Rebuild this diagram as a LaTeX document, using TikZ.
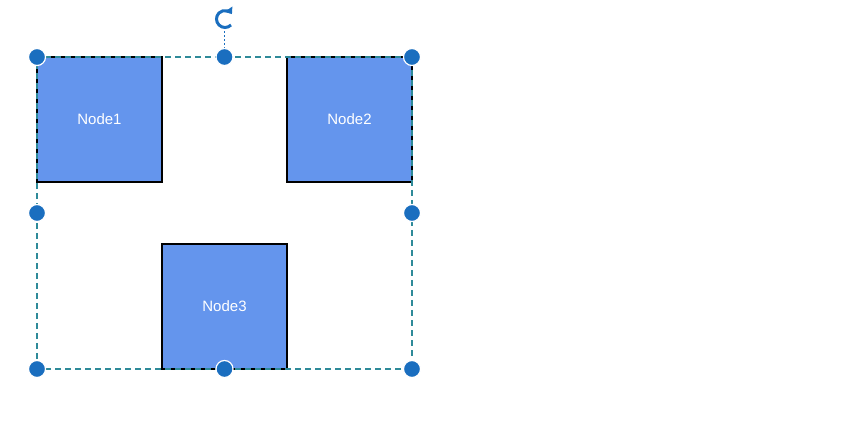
\documentclass[tikz,border=0pt]{standalone}
\usepackage{fontspec}
\setmainfont{Liberation Sans}
\usetikzlibrary{arrows.meta}
\definecolor{nodeblue}{HTML}{6495ED}
\definecolor{handleblue}{HTML}{1A6EBF}
\definecolor{selteal}{HTML}{2E8A99}
\tikzset{
  boxnode/.style={draw=black, line width=1.5pt, fill=nodeblue, minimum width=125pt, minimum height=125pt, inner sep=0pt, text=white, font=\fontsize{15}{17}\selectfont},
  handle/.style={circle, fill=handleblue, draw=white, line width=1.2pt, minimum size=17pt, inner sep=0pt},
  selline/.style={draw=selteal, line width=1.5pt, dash pattern=on 6pt off 4pt}
}
\begin{document}
\begin{tikzpicture}[x=1pt,y=1pt]
\useasboundingbox (0,0) rectangle (847,432);
\node[boxnode] (n1) at (99.5,312.5) {Node1};
\node[boxnode] (n2) at (349.5,312.5) {Node2};
\node[boxnode] (n3) at (224.5,125.5) {Node3};
\coordinate (sw) at (37,63);
\coordinate (ne) at (412,375);
\draw[selline] (sw) rectangle (ne);
\coordinate (rotbase) at (224.5,375);
\coordinate (rottop) at (224.5,403);
\draw[draw=handleblue, line width=1.5pt, dash pattern=on 1.5pt off 2.5pt] (rotbase) -- (rottop);
\draw[draw=handleblue, line width=3pt, -{Triangle[length=6pt,width=9pt]}] (231,407) arc[start angle=-45, end angle=-325, radius=8.5];
\node[handle] (h1) at (37,375) {};
\node[handle] (h2) at (224.5,375) {};
\node[handle] (h3) at (412,375) {};
\node[handle] (h4) at (37,219) {};
\node[handle] (h5) at (412,219) {};
\node[handle] (h6) at (37,63) {};
\node[handle] (h7) at (224.5,63) {};
\node[handle] (h8) at (412,63) {};
\end{tikzpicture}
\end{document}
